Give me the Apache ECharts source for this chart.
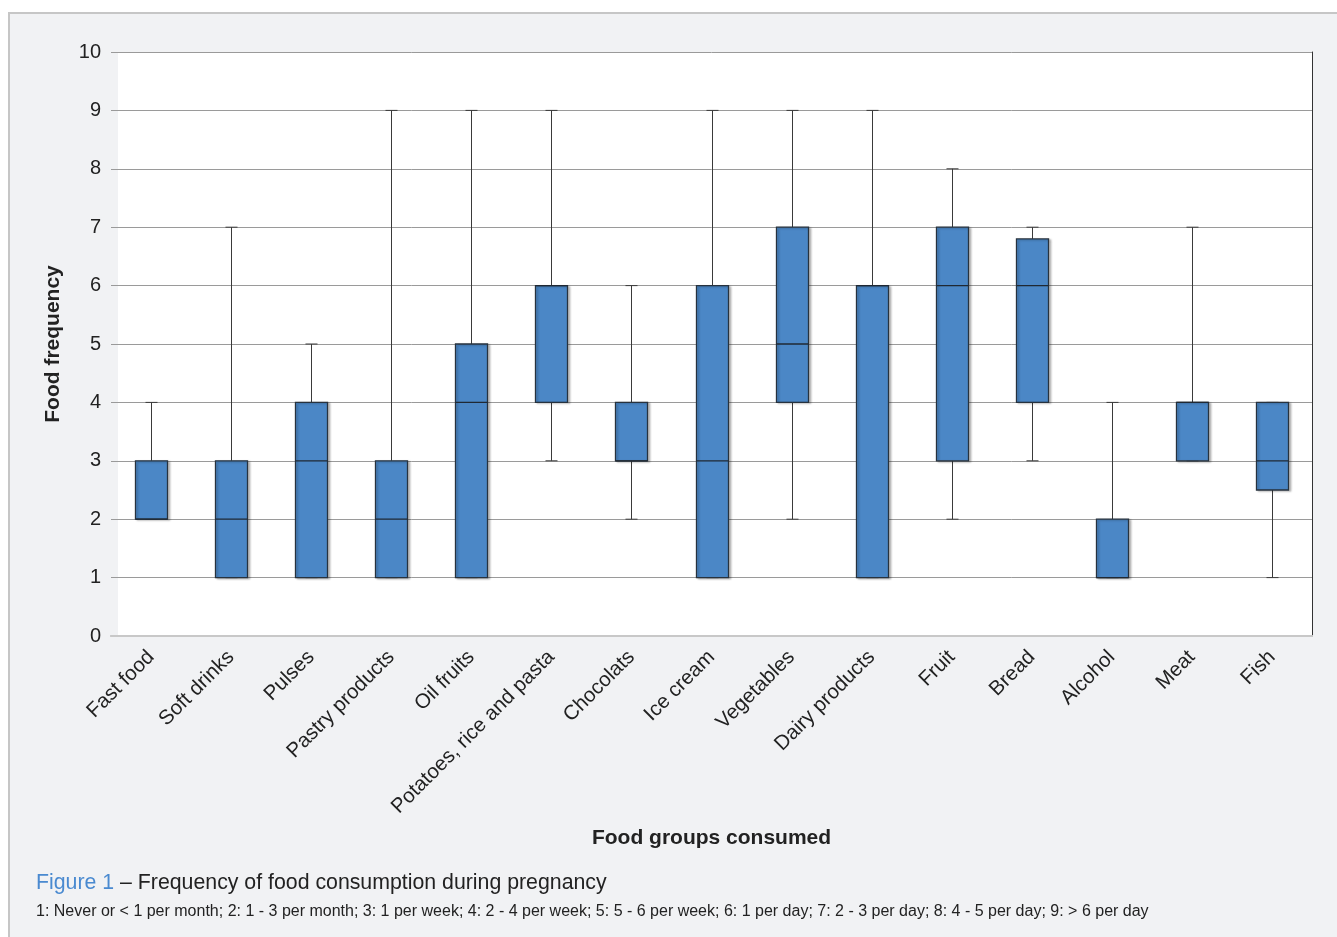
<!DOCTYPE html>
<html>
<head>
<meta charset="utf-8">
<title>Frequency of food consumption during pregnancy</title>
<script src="https://cdn.jsdelivr.net/npm/echarts@6/dist/echarts.min.js"></script>
<style>
  html, body { margin: 0; padding: 0; background: #ffffff; overflow: hidden; }
  #frame {
    position: absolute; left: 8px; top: 12px; width: 1400px; height: 1000px;
    background: #f1f2f4; border-left: 2px solid #c6c6c6; border-top: 2px solid #c6c6c6;
  }
  #chart { position: absolute; left: 0; top: 0; width: 1337px; height: 937px; }
</style>
</head>
<body>
<div id="frame"></div>
<div id="chart"></div>
<script>
// Food groups and their five-number summaries (frequency codes 1-9)
const categories = ['Fast food', 'Soft drinks', 'Pulses', 'Pastry products', 'Oil fruits',
  'Potatoes, rice and pasta', 'Chocolats', 'Ice cream', 'Vegetables', 'Dairy products',
  'Fruit', 'Bread', 'Alcohol', 'Meat', 'Fish'];
const minVals    = [2, 1, 1, 1, 1, 3, 2, 1, 2, 1, 2, 3,   1, 3, 1];
const q1Vals     = [2, 1, 1, 1, 1, 4, 3, 1, 4, 1, 3, 4,   1, 3, 2.5];
const medianVals = [2, 2, 3, 2, 4, 6, 3, 3, 5, 6, 6, 6,   1, 4, 3];
const q3Vals     = [3, 3, 4, 3, 5, 6, 4, 6, 7, 6, 7, 6.8, 2, 4, 4];
const maxVals    = [4, 7, 5, 9, 9, 9, 6, 9, 9, 9, 8, 7,   4, 7, 4];
const yTicks = [0, 10, 1]; // min, max, step

const caption = 'Figure 1';
const captionRest = ' \u2013 Frequency of food consumption during pregnancy';
const footnote = '1: Never or < 1 per month; 2: 1 - 3 per month; 3: 1 per week; 4: 2 - 4 per week; 5: 5 - 6 per week; 6: 1 per day; 7: 2 - 3 per day; 8: 4 - 5 per day; 9: > 6 per day';

const FONT = "'Liberation Sans', Arial, sans-serif";
const boxData = categories.map((c, i) => [i, minVals[i], q1Vals[i], medianVals[i], q3Vals[i], maxVals[i]]);

function renderBox(params, api) {
  const idx = api.value(0);
  const band = api.size([1, 0])[0];
  const boxW = band * 0.4;
  const capW = band * 0.15;
  const pMin = api.coord([idx, api.value(1)]);
  const pQ1 = api.coord([idx, api.value(2)]);
  const pMed = api.coord([idx, api.value(3)]);
  const pQ3 = api.coord([idx, api.value(4)]);
  const pMax = api.coord([idx, api.value(5)]);
  const x = Math.round(pQ1[0]) + 0.5;
  const whisker = { stroke: '#3a3a3a', lineWidth: 1 };
  return {
    type: 'group',
    children: [
      { type: 'line', shape: { x1: x, y1: pMin[1], x2: x, y2: pQ1[1] }, style: whisker },
      { type: 'line', shape: { x1: x, y1: pQ3[1], x2: x, y2: pMax[1] }, style: whisker },
      { type: 'line', shape: { x1: x - capW / 2, y1: pMin[1], x2: x + capW / 2, y2: pMin[1] }, style: whisker },
      { type: 'line', shape: { x1: x - capW / 2, y1: pMax[1], x2: x + capW / 2, y2: pMax[1] }, style: whisker },
      {
        type: 'rect',
        shape: { x: x - boxW / 2, y: pQ3[1], width: boxW, height: pQ1[1] - pQ3[1] },
        style: {
          fill: '#4b87c6', stroke: '#27323e', lineWidth: 1.3,
          shadowColor: 'rgba(0,0,0,0.22)', shadowBlur: 2, shadowOffsetX: 2, shadowOffsetY: 1
        }
      },
      { type: 'line', shape: { x1: x - boxW / 2, y1: pMed[1], x2: x + boxW / 2, y2: pMed[1] },
        style: { stroke: '#1f2833', lineWidth: 1.3 } }
    ]
  };
}

const chart = echarts.init(document.getElementById('chart'), null, { renderer: 'canvas' });
chart.setOption({
  backgroundColor: 'transparent',
  animation: false,
  textStyle: { fontFamily: FONT },
  grid: { left: 111, right: 25, top: 52, bottom: 301, show: false },
  xAxis: [{
    type: 'category',
    data: categories,
    axisLine: { show: true, lineStyle: { color: '#c8c8c8', width: 2 } },
    axisTick: { show: false },
    axisLabel: { interval: 0, rotate: 45, fontSize: 20.5, color: '#222', margin: 18, fontFamily: FONT },
    splitLine: { show: false },
    name: 'Food groups consumed',
    nameLocation: 'middle',
    nameGap: 192,
    nameTextStyle: { fontSize: 21, fontWeight: 'bold', color: '#222', fontFamily: FONT }
  }, {
    type: 'category',
    data: categories,
    position: 'top',
    axisLine: { show: true, lineStyle: { color: '#c8c8c8', width: 2 } },
    axisTick: { show: false },
    axisLabel: { show: false }
  }],
  yAxis: [{
    type: 'value',
    min: yTicks[0], max: yTicks[1], interval: yTicks[2],
    axisLine: { show: false },
    axisTick: { show: false },
    axisLabel: { fontSize: 20, color: '#222', margin: 10, fontFamily: FONT },
    splitLine: { show: true, lineStyle: { color: '#9a9a9a', width: 1 } },
    name: 'Food frequency',
    nameLocation: 'middle',
    nameRotate: 90,
    nameGap: 47,
    nameTextStyle: { fontSize: 21, fontWeight: 'bold', color: '#222', fontFamily: FONT }
  }, {
    type: 'value',
    position: 'right',
    min: yTicks[0], max: yTicks[1], interval: yTicks[2],
    axisLine: { show: true, lineStyle: { color: '#333', width: 1 } },
    axisTick: { show: false },
    axisLabel: { show: false },
    splitLine: { show: false }
  }],
  series: [{
    type: 'custom',
    xAxisIndex: 0,
    yAxisIndex: 0,
    renderItem: renderBox,
    encode: { x: 0, y: [1, 2, 3, 4, 5] },
    data: boxData,
    z: 5
  }],
  graphic: [{
    // white plot panel, inset slightly from where the gridlines begin
    type: 'rect',
    z: -10,
    left: 118, top: 52,
    shape: { width: 1194, height: 584 },
    style: { fill: '#ffffff' },
    silent: true
  }, {
    type: 'text',
    left: 36, top: 873,
    style: {
      text: '{a|' + caption + '}{b|' + captionRest + '}',
      rich: {
        a: { fontSize: 21.3, fill: '#4a8ad0', fontFamily: FONT },
        b: { fontSize: 21.3, fill: '#222', fontFamily: FONT }
      }
    }
  }, {
    type: 'text',
    left: 36, top: 904,
    style: { text: footnote, fontSize: 16, fill: '#222', fontFamily: FONT }
  }]
});
</script>
</body>
</html>
